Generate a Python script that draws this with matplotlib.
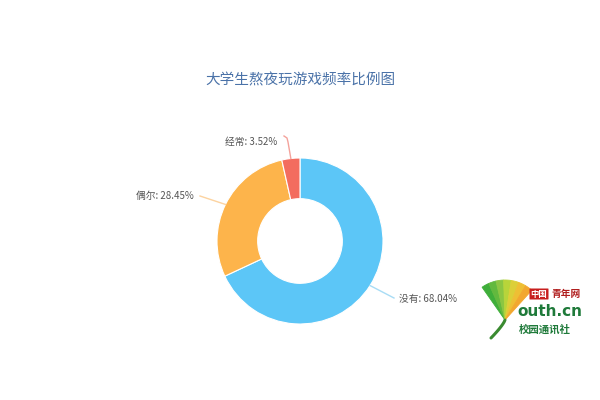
import matplotlib.pyplot as plt
import numpy as np
from matplotlib.patches import Wedge, FancyBboxPatch

plt.rcParams['font.family'] = ['Noto Sans CJK SC', 'DejaVu Sans']

labels = ['没有', '偶尔', '经常']
values = [68.04, 28.45, 3.52]
colors = ['#5cc6f7', '#fdb44b', '#f36c5f']
line_cols = ['#a8dcf5', '#fcd3a0', '#f4a29b']
title = '大学生熬夜玩游戏频率比例图'

fig = plt.figure(figsize=(6, 4), dpi=100)
fig.patch.set_facecolor('white')

# pie axes: centre (300, 241) px, radius 83 px
cx, cy, r = 300, 241, 83
ax = fig.add_axes([(cx - r) / 600, (400 - cy - r) / 400, 2 * r / 600, 2 * r / 400])
wedges, _ = ax.pie(values, colors=colors, startangle=90, counterclock=False,
                   radius=1.0, wedgeprops=dict(width=0.49, edgecolor='white', linewidth=0.8))
ax.set_xlim(-1, 1)
ax.set_ylim(-1, 1)
ax.set_aspect('equal')
ax.axis('off')


def px(x, y):
    # pixel coords -> pie data coords
    return (x - cx) / r, (cy - y) / r


# label lines + texts (anchor points in pixels)
for w, lab, val, lc in zip(wedges, labels, values, line_cols):
    ang = np.deg2rad((w.theta1 + w.theta2) / 2)
    x0, y0 = np.cos(ang), np.sin(ang)
    if lab == '经常':
        pts = [px(288, 142), px(287, 138), px(284, 136)]
        tpos, ha = px(277, 142), 'right'
    elif lab == '偶尔':
        pts = [px(200, 196)]
        tpos, ha = px(194, 196), 'right'
    else:
        pts = [px(394, 298)]
        tpos, ha = px(399, 299), 'left'
    xs = [x0] + [p[0] for p in pts]
    ys = [y0] + [p[1] for p in pts]
    ax.plot(xs, ys, color=lc, lw=1.0, clip_on=False)
    ax.text(tpos[0], tpos[1], f'{lab}: {val:.2f}%', ha=ha, va='center', fontsize=7,
            color='#555555', clip_on=False)

fig.text(0.5, 1 - 80 / 400, title, ha='center', va='center', fontsize=10.5,
         color='#4a72a8')

# logo (rough approximation), pixel coordinates
lax = fig.add_axes([470 / 600, (400 - 350) / 400, 130 / 600, 90 / 400])
lax.set_xlim(470, 600)
lax.set_ylim(350, 260)
lax.axis('off')
fan_cols = ['#3fae3a', '#62b93e', '#8cc642', '#b8d43a', '#dccf38', '#eebf34', '#f2a72f']
angs = np.linspace(125, 48, len(fan_cols) + 1)
for i, c in enumerate(fan_cols):
    # y axis inverted: negative angles point upward on screen
    lax.add_patch(Wedge((505, 320), 40, -angs[i], -angs[i + 1], facecolor=c,
                        edgecolor=c, linewidth=0.6))
tt = np.linspace(0, 1, 20)
lax.plot(505 - 14 * tt, 320 + 18 * tt ** 0.8, color='#3a8a30', lw=2.2,
         solid_capstyle='round')
lax.add_patch(FancyBboxPatch((530, 289), 18, 10, boxstyle='round,pad=0.5',
                             fc='#c81e1e', ec='none'))
lax.text(539, 294, '中国', fontsize=6, color='white', weight='bold',
         ha='center', va='center')
lax.text(551, 294, '青年网', fontsize=7, color='#b01e1e', weight='bold',
         va='center')
lax.text(517, 312, 'outh.cn', fontsize=11, color='#1f7a3a', weight='bold',
         family='DejaVu Sans', va='center')
lax.text(519, 330, '校园通讯社', fontsize=7.5, color='#1f7a3a', weight='bold',
         va='center')

fig.savefig('out.png', dpi=100)
